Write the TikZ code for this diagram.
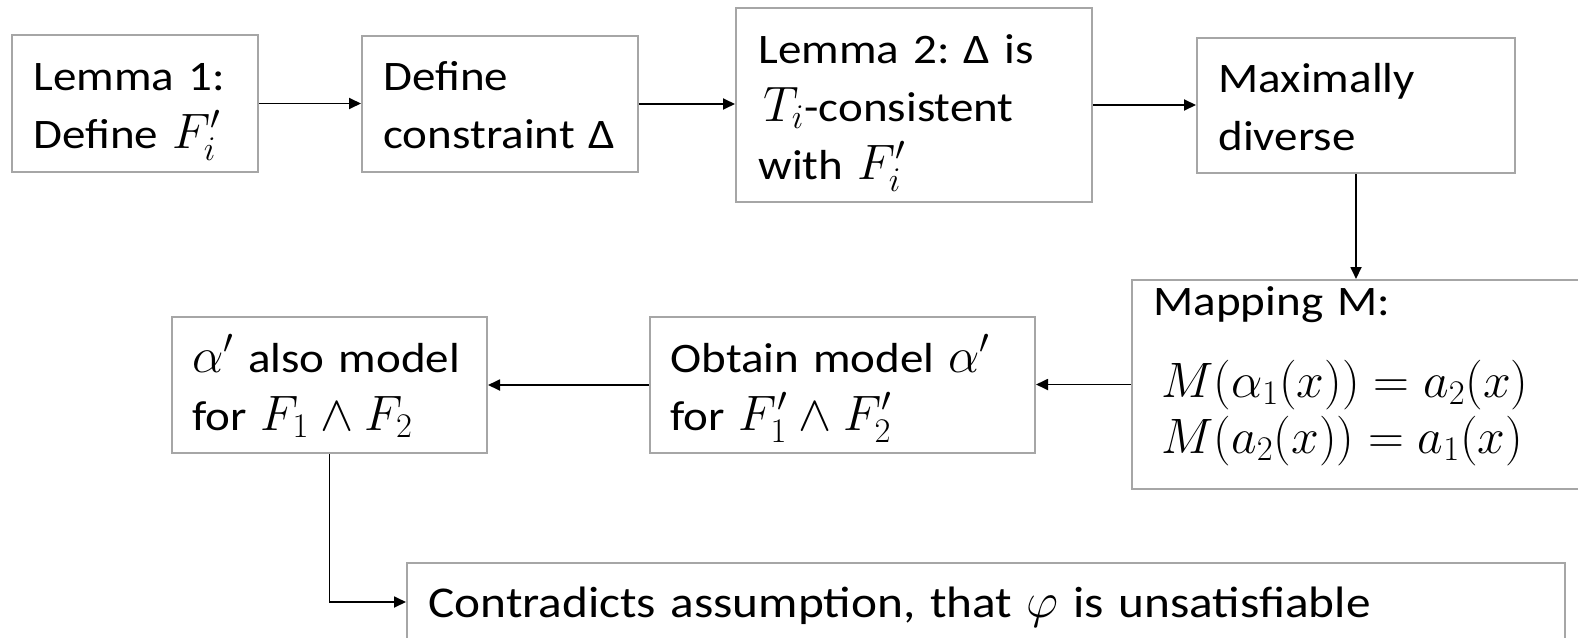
\documentclass[tikz,border=0pt]{standalone}
\usepackage{fontspec}
\setmainfont{Carlito}[FakeStretch=1.12]
\usetikzlibrary{arrows.meta}
\definecolor{boxgray}{RGB}{166,166,166}
\frenchspacing
\newcommand\mm[1]{{\fontsize{24}{29}\selectfont$#1$}}
\newcommand\mmm[1]{{\fontsize{26}{29}\selectfont$#1$}}
\begin{document}
\begin{tikzpicture}[x=0.5pt,y=-0.5pt,
  frame/.style={draw=boxgray, line width=1pt, inner sep=0pt, anchor=center},
  txt/.style={align=left, inner sep=0pt, anchor=base west,
    font=\fontsize{21}{29}\selectfont},
  arr/.style={-{Triangle[length=6pt,width=5.5pt]}, line width=0.9pt}]
\useasboundingbox (0,0) rectangle (1578,637);
\clip (0,0) rectangle (1578,637);
% boxes
\node[frame, minimum width=123pt, minimum height=68.5pt] (b1) at (135,103.5) {};
\node[frame, minimum width=138pt, minimum height=68pt] (b2) at (500,104) {};
\node[frame, minimum width=178pt, minimum height=97pt] (b3) at (914,105) {};
\node[frame, minimum width=159pt, minimum height=67.5pt] (b4) at (1356,105.5) {};
\node[frame, minimum width=225pt, minimum height=104.5pt] (map) at (1357,384.5) {};
\node[frame, minimum width=192.5pt, minimum height=68pt] (obt) at (842.5,385) {};
\node[frame, minimum width=157.5pt, minimum height=68pt] (alp) at (329.5,385) {};
\node[frame, minimum width=579pt, minimum height=39pt] (con) at (986,602) {};
% texts
\node[txt, text width=100pt] (t1) at (33,90) {\mbox{Lemma 1:}\\\mbox{Define \mm{F_i'}}};
\node[txt, text width=115pt] (t2) at (383,90) {\mbox{Define}\\\mbox{constraint Δ}};
\node[txt, text width=150pt] (t3) at (758,63) {\mbox{Lemma 2: Δ is}\\\mbox{\hspace{2.5pt}\mm{T_i}-consistent}\\\mbox{with \mm{F_i'}}};
\node[txt, text width=130pt] (t4) at (1218,92) {\mbox{Maximally}\\\mbox{diverse}};
\node[txt, text width=200pt] (tm) at (1153,315) {\mbox{Mapping M:}\\[12pt]\mbox{\hspace{4pt}\mmm{M\big(\alpha_1(x)\big)=a_2(x)}}\\[-1pt]\mbox{\hspace{4pt}\mmm{M\big(a_2(x)\big)=a_1(x)}}};
\node[txt, text width=165pt] (to) at (670,372) {\mbox{Obtain model \mm{\alpha'}}\\\mbox{for \mm{F_1'\wedge F_2'}}};
\node[txt, text width=135pt] (ta) at (192,372) {\mbox{\mm{\alpha'} also model}\\\mbox{for \mm{F_1\wedge F_2}}};
\node[txt, text width=560pt, font=\fontsize{22}{29}\selectfont] (tc) at (428,617) {\mbox{Contradicts assumption, that \mm{\varphi} is unsatisfiable}};
% connectors
\draw[arr] (b1.east) -- (b1.east -| b2.west);
\draw[arr] (b2.east) -- (b2.east -| b3.west);
\draw[arr] (b3.east) -- (b3.east -| b4.west);
\draw[arr] (b4.south) -- (b4.south |- map.north);
\draw[arr] (map.west) -- (map.west -| obt.east);
\draw[arr] (obt.west) -- (obt.west -| alp.east);
\draw[arr] (alp.south) |- (con.west);
\end{tikzpicture}
\end{document}
